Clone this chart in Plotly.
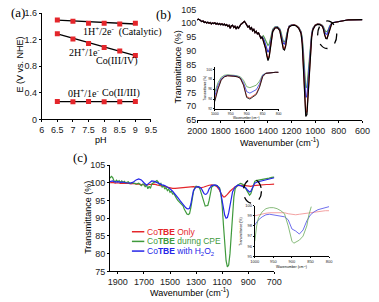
import plotly.graph_objects as go

W, H = 379, 302
def fx(p): return p / W
def fy(p): return 1 - p / H

SANS = "Liberation Sans, Arial, sans-serif"
SERIF = "Liberation Serif, Times New Roman, serif"
RED = "#e4262b"; GREEN = "#3f9a3c"; BLUE = "#2525e8"

# ---------------- Panel (a) data ----------------
ph = [6.5, 7, 7.5, 8, 8.5, 9]
e_cat = [1.495, 1.475, 1.445, 1.445, 1.435, 1.445]
e_co34 = [1.29, 1.21, 1.14, 1.08, 1.03, 0.96]
e_co23 = [0.27, 0.265, 0.27, 0.265, 0.265, 0.27]
fit_ph = [6.5, 9]
fit_cat = [1.492, 1.435]
fit_co34 = [1.285, 0.958]
fit_co23 = [0.268, 0.267]
a_xticks = [6, 6.5, 7, 7.5, 8, 8.5, 9, 9.5]
a_yticks = [0, 0.4, 0.8, 1.2, 1.6]

# ---------------- Panel (b) data ----------------
b_wn_left = list(range(2000, 1449, -10))
b_left = [101.2, 101.5, 101.3, 100.9, 100.6, 100.8, 100.3, 100.5, 100.1, 100.4,
          100.0, 100.3, 99.8, 100.1, 99.9, 100.2, 99.7, 100.0, 99.6, 99.9,
          99.5, 99.8, 99.4, 99.7, 99.2, 99.5, 98.9, 99.3, 98.2, 99.1,
          99.3, 98.5, 98.9, 97.9, 98.7, 98.2, 99.0, 99.6, 99.9, 100.3,
          100.7, 100.1, 99.3, 98.6, 99.0, 97.9, 98.4, 97.3, 97.8, 96.6,
          97.1, 96.2, 96.5, 95.8, 94.6, 95.1]
b_wn_mid = [1440, 1430, 1420, 1410, 1400, 1390, 1380, 1370, 1360,
            1340, 1320, 1300,
            1290, 1280, 1270, 1260, 1250, 1240, 1230, 1220,
            1200, 1180, 1160, 1140, 1120,
            1110, 1100, 1090, 1080, 1070, 1060, 1050, 1040, 1030, 1020,
            1000, 980, 960, 940,
            930, 920, 910, 900, 890, 880, 870, 860]
b_black = [93.8, 92.5, 90.8, 88.3, 86.5, 87.8, 91.5, 95.0, 97.0,
           98.3, 98.4, 97.3,
           95.6, 92.8, 90.6, 90.3, 91.8, 95.2, 97.6, 98.7,
           99.2, 99.3, 99.0, 98.2, 96.3,
           92.5, 85.0, 74.5, 66.3, 67.0, 74.0, 83.5, 90.5, 95.0, 97.6,
           99.2, 99.6, 99.5, 98.9,
           97.8, 95.8, 94.5, 94.4, 95.8, 97.9, 99.3, 99.9]
b_red = [93.9, 92.7, 91.1, 88.7, 87.0, 88.2, 91.8, 95.2, 97.1,
         98.4, 98.5, 97.4,
         95.8, 93.2, 91.1, 90.8, 92.2, 95.4, 97.7, 98.8,
         99.3, 99.4, 99.1, 98.3, 96.5,
         93.0, 85.8, 75.5, 67.6, 68.2, 75.0, 84.3, 91.0, 95.3, 97.8,
         99.3, 99.7, 99.6, 99.0,
         97.9, 96.0, 94.7, 94.6, 96.0, 98.0, 99.4, 100.0]
b_blue = [94.6, 93.6, 92.3, 90.6, 89.5, 90.3, 93.0, 95.8, 97.4,
          98.5, 98.6, 97.7,
          96.4, 94.3, 92.7, 92.5, 93.5, 96.0, 97.9, 98.9,
          99.3, 99.4, 99.1, 98.4, 96.8,
          94.0, 88.0, 80.0, 73.2, 73.6, 79.5, 87.0, 92.5, 96.0, 98.0,
          99.3, 99.7, 99.6, 99.1,
          98.3, 96.9, 96.1, 96.0, 96.9, 98.4, 99.5, 100.0]
b_green = [95.5, 94.8, 93.8, 92.7, 92.0, 92.5, 94.3, 96.5, 97.8,
           98.7, 98.8, 98.0,
           96.9, 95.0, 93.5, 93.3, 94.1, 96.4, 98.1, 99.0,
           99.4, 99.5, 99.2, 98.5, 97.0,
           94.8, 89.8, 82.8, 76.7, 77.0, 82.0, 88.5, 93.3, 96.4, 98.2,
           99.4, 99.8, 99.7, 99.3,
           98.7, 97.6, 97.0, 97.0, 97.6, 98.7, 99.6, 100.1]
b_wn_right = [850, 840, 820, 800, 780, 760, 740, 720, 700, 680, 660, 640, 620, 600]
b_right = [100.2, 100.3, 100.5, 100.7, 100.9, 101.0, 101.1, 101.2, 101.2, 101.3,
           101.2, 101.3, 101.2, 101.3]
b_xticks = [2000, 1800, 1600, 1400, 1200, 1000, 800, 600]
b_yticks = [65, 70, 75, 80, 85, 90, 95, 100, 105]

# inset of (b)
ib_wn = [1000, 990, 980, 970, 960, 950, 940, 930, 920, 910, 900,
         890, 880, 870, 860, 850, 840, 830, 820, 810, 800]
ib_black = [93.5, 96.0, 97.8, 98.5, 98.7, 98.7, 98.6, 98.5, 98.2, 96.8, 94.3,
            94.0, 94.4, 94.9, 96.3, 98.5, 99.2, 99.3, 99.3, 99.4, 99.4]
ib_red = [93.8, 96.2, 97.9, 98.5, 98.7, 98.7, 98.6, 98.5, 98.2, 96.9, 94.5,
          94.2, 94.6, 95.1, 96.5, 98.6, 99.2, 99.3, 99.3, 99.4, 99.4]
ib_blue = [94.6, 96.8, 98.1, 98.6, 98.8, 98.8, 98.7, 98.6, 98.3, 97.3, 95.5,
           95.2, 95.5, 95.9, 97.0, 98.8, 99.2, 99.3, 99.3, 99.4, 99.4]
ib_green = [95.4, 97.3, 98.4, 98.8, 98.9, 98.9, 98.8, 98.7, 98.5, 97.8, 96.5,
            96.3, 96.5, 96.8, 97.6, 98.9, 99.2, 99.3, 99.3, 99.4, 99.4]
ib_xticks = [1000, 950, 900, 850, 800]
ib_yticks = [92, 94, 96, 98, 100]

# ---------------- Panel (c) data ----------------
c_red_wn = list(range(1960, 1119, -20)) + [1110, 1100, 1090, 1080, 1070, 1060] + list(range(1040, 699, -20))
c_red = [100.0, 100.1, 99.9, 100.0, 99.8, 99.9, 99.8, 99.9, 99.7, 99.8,
         99.6, 99.7, 99.5, 99.4, 99.3, 99.5, 99.6, 99.6, 99.4, 99.2,
         99.0, 98.8, 98.6, 98.5, 98.4, 98.4, 98.5, 98.6, 98.5, 98.7,
         98.9, 99.0, 98.9, 98.8, 98.6, 98.6, 98.8, 99.1, 99.3, 99.4,
         99.3, 98.9, 97.9,
         97.0, 96.4, 96.0, 96.0, 96.3, 96.7,
         97.6, 98.4, 98.9, 99.2, 99.3, 99.3, 99.2, 99.1, 99.0, 99.2,
         99.3, 99.4, 99.4, 99.5, 99.5, 99.5, 99.6, 99.6]
c_blue_wn = [1960, 1940, 1920, 1900, 1880, 1860, 1840, 1820, 1800, 1780, 1760, 1740, 1720, 1700,
             1690, 1680, 1670, 1660,
             1640, 1620, 1600, 1580, 1560, 1540, 1520, 1500, 1480, 1460, 1440, 1420, 1400, 1380,
             1370, 1360, 1350, 1340, 1330, 1320,
             1300, 1280, 1260,
             1250, 1240, 1230, 1220, 1210, 1200,
             1180, 1160, 1140, 1120,
             1110, 1100, 1090, 1080, 1070, 1060, 1050, 1040, 1030, 1020,
             1000, 980, 960, 940, 920,
             910, 900, 890, 880, 870, 860, 850,
             830, 800, 780, 760, 740, 720, 700]
c_blue = [100.3, 100.5, 100.2, 100.3, 100.1, 100.2, 100.0, 100.0, 99.9, 100.2, 100.8, 101.1, 100.8, 100.0,
          99.5, 99.3, 99.6, 100.0,
          100.5, 100.4, 100.0, 99.6, 99.4, 99.2, 98.8, 98.3, 97.6, 96.8, 95.8, 94.8, 93.8, 93.0,
          92.7, 92.6, 92.8, 94.0, 96.0, 97.8,
          98.8, 98.9, 98.4,
          97.6, 97.0, 96.7, 96.8, 97.3, 98.3,
          99.2, 99.4, 99.2, 98.3,
          97.0, 95.0, 92.8, 90.8, 90.0, 90.2, 91.5, 93.5, 95.8, 97.5,
          98.8, 99.3, 99.2, 99.0, 98.6,
          98.1, 97.7, 97.4, 97.6, 98.4, 99.3, 99.9,
          100.2, 100.5, 100.7, 100.9, 101.0, 101.2, 101.4]
c_green_wn = list(range(1960, 845, -10)) + list(range(840, 699, -20))
c_green = [101.3, 101.8, 101.5, 100.6, 100.3, 100.7, 100.3, 100.6, 100.1, 100.5,
           100.1, 100.4, 100.0, 100.2, 100.3, 99.8, 100.0, 100.1, 99.8, 99.9,
           99.6, 99.8, 99.9, 99.5, 99.2, 99.6, 99.6, 98.8, 99.4, 98.3,
           99.0, 98.4, 99.6, 99.9, 100.2, 100.4, 100.6, 100.2, 99.4, 99.8,
           98.8, 99.2, 98.2, 98.7, 97.8, 98.2, 97.3, 97.6, 96.8, 96.9,
           96.0, 95.6, 95.0, 94.6, 94.2, 93.8, 93.5, 92.5, 91.8, 91.2,
           91.0, 91.3, 93.0, 95.5, 97.5, 98.6, 99.0, 98.9, 98.8, 98.2,
           97.0, 95.5, 94.0, 93.4, 93.5, 93.6, 95.0, 97.5, 98.8, 99.1,
           99.3, 99.3, 99.2, 98.9, 98.6, 97.0, 93.5, 88.0, 82.0, 78.0,
           76.3, 76.8, 80.0, 86.0, 92.0, 96.0, 98.3,
           99.0, 99.4, 99.6, 99.8, 99.7, 99.5, 99.0, 98.4, 97.5, 96.8,
           96.5, 96.9, 98.3, 99.8, 100.4,
           100.6, 100.7, 100.9, 101.0, 101.1, 101.3, 101.5, 101.6]
c_xticks = [1900, 1700, 1500, 1300, 1100, 900, 700]
c_yticks = [75, 80, 85, 90, 95, 100, 105]

# inset of (c)
ic_wn = [1000, 990, 980, 970, 960, 950, 940, 930, 920, 910, 900,
         890, 880, 870, 860, 850, 840, 830, 820, 810, 800]
ic_red = [99.0, 99.1, 99.2, 99.25, 99.3, 99.3, 99.3, 99.3, 99.3, 99.2, 99.15,
          99.1, 99.15, 99.2, 99.3, 99.35, 99.4, 99.45, 99.5, 99.5, 99.5]
ic_blue = [98.1, 98.6, 98.9, 99.1, 99.15, 99.1, 99.0, 98.95, 98.9, 98.6, 97.7,
           97.5, 97.2, 97.6, 98.5, 99.1, 99.4, 99.6, 99.7, 99.8, 99.9]
ic_green_wn = [1000, 995, 990, 980, 970, 960, 950, 940, 930, 920, 910, 900,
               895, 890, 880, 870, 860, 855, 848]
ic_green = [96.5, 98.0, 98.8, 99.4, 99.7, 99.8, 99.8, 99.7, 99.5, 99.2, 98.0, 96.5,
            96.3, 96.4, 96.6, 97.0, 98.0, 99.0, 99.9]
ic_xticks = [1000, 950, 900, 850, 800]
ic_yticks = [95, 96, 97, 98, 99, 100]

legend_c = ["Co<b>TBE</b> Only", "Co<b>TBE</b> during CPE",
            "Co<b>TBE</b> with H<sub>2</sub>O<sub>2</sub>"]

# ---------------- Build figure ----------------
fig = go.Figure()

def line(x, y, color, xa, ya, width=1.2):
    fig.add_trace(go.Scatter(x=x, y=y, mode="lines", line=dict(color=color, width=width),
                             xaxis=xa, yaxis=ya, showlegend=False, hoverinfo="skip"))

# (a)
for fy_ in (fit_cat, fit_co34, fit_co23):
    line(fit_ph, fy_, "black", "x", "y", 1.3)
for ey in (e_cat, e_co34, e_co23):
    fig.add_trace(go.Scatter(x=ph, y=ey, mode="markers",
                             marker=dict(symbol="square", size=5, color=RED),
                             xaxis="x", yaxis="y", showlegend=False))

# (b)
bx = b_wn_left + b_wn_mid + b_wn_right
for mid, col in ((b_green, "#5ba04e"), (b_blue, "#2b3be0"), (b_red, "#e03a2e"), (b_black, "black")):
    line(bx, b_left + mid + b_right, col, "x2", "y2", 1.2)
for yy, col in ((ib_green, "#5ba04e"), (ib_blue, "#2b3be0"), (ib_red, "#e03a2e"), (ib_black, "black")):
    line(ib_wn, yy, col, "x3", "y3", 0.8)

# (c)
line(c_red_wn, c_red, RED, "x4", "y4", 1.2)
line(c_green_wn, c_green, GREEN, "x4", "y4", 1.2)
line(c_blue_wn, c_blue, BLUE, "x4", "y4", 1.2)
line(ic_wn, ic_red, "#f08a8a", "x5", "y5", 0.8)
line(ic_wn, ic_blue, "#4a4ae8", "x5", "y5", 0.8)
line(ic_green_wn, ic_green, "#6aaa5a", "x5", "y5", 0.8)

def axis(domain, rng, anchor, tickvals, size=9, showline=True, ticklen=3, ticks="outside"):
    return dict(domain=domain, range=rng, anchor=anchor, tickmode="array", tickvals=tickvals,
                showline=showline, linecolor="black", linewidth=1, ticks=ticks, ticklen=ticklen,
                tickwidth=1, tickcolor="black", showgrid=False, zeroline=False,
                tickfont=dict(family=SANS, size=size, color="#222"), fixedrange=True)

layout = dict(
    width=W, height=H, autosize=False, margin=dict(l=0, r=0, t=0, b=0),
    paper_bgcolor="white", plot_bgcolor="rgba(0,0,0,0)", showlegend=False,
    font=dict(family=SANS, size=9, color="black"),
    xaxis=axis([fx(33.3), fx(148)], [6, 9.5], "y", a_xticks, ticklen=2),
    yaxis=axis([fy(118.3), fy(8.3)], [0, 1.6], "x", a_yticks, ticklen=2),
    xaxis2=axis([fx(196.5), fx(370)], [2000, 600], "y2", b_xticks, ticklen=2),
    yaxis2=axis([fy(119), fy(4.6)], [65, 105], "x2", b_yticks, showline=False, ticks=""),
    xaxis3=axis([fx(215), fx(282)], [1000, 800], "y3", ib_xticks, size=3.5, ticklen=1),
    yaxis3=axis([fy(107.5), fy(64)], [92, 100.5], "x3", ib_yticks, size=3.5, ticklen=1),
    xaxis4=axis([fx(105), fx(277.5)], [1960, 700], "y4", c_xticks, ticklen=2),
    yaxis4=axis([fy(275.5), fy(165.5)], [75, 105], "x4", c_yticks, ticklen=2),
    xaxis5=axis([fx(257), fx(335)], [1000, 800], "y5", ic_xticks, size=4, ticklen=1),
    yaxis5=axis([fy(260), fy(207.5)], [95, 100], "x5", ic_yticks, size=4, ticklen=1),
)

ann = []
def text(x, y, s, size=9, family=SANS, color="black", xanchor="center", angle=0):
    ann.append(dict(x=fx(x), y=fy(y), xref="paper", yref="paper", text=s, showarrow=False,
                    xanchor=xanchor, yanchor="middle", textangle=angle,
                    font=dict(family=family, size=size, color=color)))

# panel labels
text(8, 8, "(a)", 13, SERIF)
text(161, 10, "(b)", 13, SERIF)
text(73, 158, "(c)", 13, SERIF)
# panel a texts
text(75, 27, "1H<sup>+</sup>/2e<sup>-</sup>  (Catalytic)", 10, SERIF, xanchor="left")
text(60, 49, "2H<sup>+</sup>/1e<sup>-</sup>", 10, SERIF, xanchor="left")
text(88, 58, "Co(III/IV)", 10, SERIF, xanchor="left")
text(59, 91, "0H<sup>+</sup>/1e<sup>-</sup>", 10, SERIF, xanchor="left")
text(95, 91, "Co(II/III)", 10, SERIF, xanchor="left")
# axis titles
text(10, 62, "E (V vs. NHE)", 9, angle=-90)
text(96, 140, "pH", 9)
text(176, 64, "Transmittance (%)", 9, angle=-90)
text(283, 142, "Wavenumber (cm<sup>-1</sup>)", 9)
text(82, 220, "Transmittance (%)", 9, angle=-90)
text(188, 296.5, "Wavenumber (cm<sup>-1</sup>)", 9)
# inset titles
text(205, 86, "Transmittance (%)", 3, angle=-90)
text(248, 116.5, "Wavenumber (cm<sup>-1</sup>)", 3)
text(243, 234, "Transmittance (%)", 3.5, angle=-90)
text(296, 270.5, "Wavenumber (cm<sup>-1</sup>)", 3.5)
# legend of (c)
shapes = []
for i, (lbl, col) in enumerate(zip(legend_c, (RED, GREEN, BLUE))):
    yy = 234.5 + i * 10
    shapes.append(dict(type="line", xref="paper", yref="paper", x0=fx(128), x1=fx(141),
                       y0=fy(yy), y1=fy(yy), line=dict(color=col, width=1.5)))
    text(142, yy, lbl, 8.5, SANS, col, xanchor="left")

# dashed ellipses
shapes.append(dict(type="circle", xref="paper", yref="paper", x0=fx(323), x1=fx(343),
                   y0=fy(45), y1=fy(16.5), line=dict(color="black", width=1.3, dash="dash")))
shapes.append(dict(type="circle", xref="paper", yref="paper", x0=fx(245), x1=fx(264),
                   y0=fy(205), y1=fy(180), line=dict(color="black", width=1.3, dash="dash")))

layout["annotations"] = ann
layout["shapes"] = shapes
fig.update_layout(**layout)
fig.write_html("out.html", config={"displayModeBar": False},
               post_script="document.body.style.margin='0';")
